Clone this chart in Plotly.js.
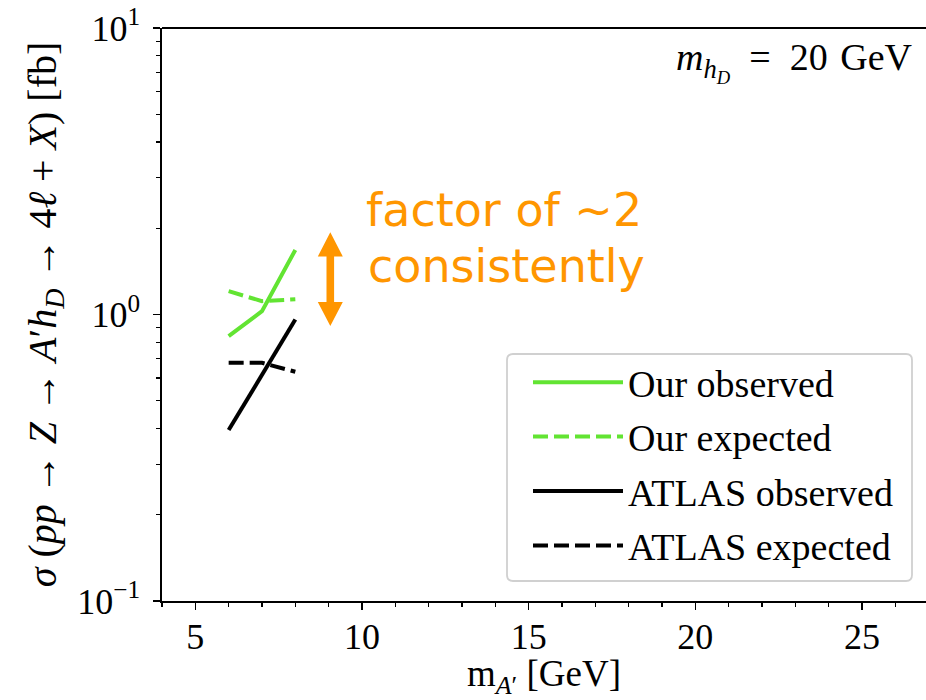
<!DOCTYPE html>
<html>
<head>
<meta charset="utf-8">
<script src="https://cdn.plot.ly/plotly-3.0.1.min.js"></script>
<style>html,body{margin:0;padding:0;background:#fff;}</style>
</head>
<body>
<div id="chart" style="width:926px;height:700px;"></div>
<script>
// ---- data ----
const massA = [6, 7, 8];
const ourObserved = [0.84, 1.027, 1.68];
const ourExpected = [1.206, 1.113, 1.13];
const atlasObserved = [0.395, 0.616, 0.96];
const atlasExpected = [0.678, 0.678, 0.631];
const seriesNames = ["Our observed", "Our expected", "ATLAS observed", "ATLAS expected"];
const yTickVals = [0.1, 1, 10];
const yTickText = ["10<sup>\u22121</sup>", "10<sup>0</sup>", "10<sup>1</sup>"];
const xTickVals = [5, 10, 15, 20, 25];

const GREEN = "rgb(98,228,50)";
const ORANGE = "rgb(255,150,0)";
const SERIF = "Liberation Serif";
const HAND = "DejaVu Sans";

const yMinor = [];
[0.1, 1].forEach(d => { for (let k = 2; k <= 9; k++) yMinor.push(+(d * k).toFixed(3)); });

const dashPat = "15px,6px";
const traces = [
  {x: massA, y: ourObserved, name: seriesNames[0], mode: "lines", line: {color: GREEN, width: 4}, legendgroup: "a"},
  {x: massA, y: ourExpected, name: seriesNames[1], mode: "lines", line: {color: GREEN, width: 4, dash: dashPat}, legendgroup: "b"},
  {x: massA, y: atlasObserved, name: seriesNames[2], mode: "lines", line: {color: "black", width: 4}, legendgroup: "c"},
  {x: massA, y: atlasExpected, name: seriesNames[3], mode: "lines", line: {color: "black", width: 4, dash: dashPat}, legendgroup: "d"}
];

// plot-area geometry helpers (for decorations only)
const L = 162, T = 28, W = 764, H = 573;
function P(px, py) { return ((px - L) / W).toFixed(5) + "," + ((T + H - py) / H).toFixed(5); }
const cx = 330.3, hw = 12.5, sw = 3.8;
const arrowPath = "M" + P(cx, 232.3) + " L" + P(cx + hw, 256.5) + " L" + P(cx + sw, 256.5) +
  " L" + P(cx + sw, 302) + " L" + P(cx + hw, 302) + " L" + P(cx, 326) + " L" + P(cx - hw, 302) +
  " L" + P(cx - sw, 302) + " L" + P(cx - sw, 256.5) + " L" + P(cx - hw, 256.5) + " Z";
// rounded legend frame
const bx0 = 507, bx1 = 912, by0 = 354, by1 = 581, r = 6;
const framePath = "M" + P(bx0 + r, by0) + " L" + P(bx1 - r, by0) + " Q" + P(bx1, by0) + " " + P(bx1, by0 + r) +
  " L" + P(bx1, by1 - r) + " Q" + P(bx1, by1) + " " + P(bx1 - r, by1) +
  " L" + P(bx0 + r, by1) + " Q" + P(bx0, by1) + " " + P(bx0, by1 - r) +
  " L" + P(bx0, by0 + r) + " Q" + P(bx0, by0) + " " + P(bx0 + r, by0) + " Z";

const layout = {
  width: 926, height: 700,
  margin: {l: L, r: 0, t: T, b: 700 - T - H, pad: 0},
  paper_bgcolor: "white", plot_bgcolor: "white",
  font: {family: SERIF, color: "black", size: 36},
  showlegend: true,
  xaxis: {
    range: [4, 4 + W / 33.33],
    tickmode: "array", tickvals: xTickVals,
    ticks: "outside", ticklen: 7, tickwidth: 1.5, tickcolor: "black",
    minor: {dtick: 1, tick0: 0, ticks: "outside", ticklen: 4, tickwidth: 1.2, tickcolor: "black"},
    showline: true, linecolor: "black", linewidth: 1.8,
    showgrid: false, zeroline: false,
    ticklabelstandoff: -4,
    tickfont: {family: SERIF, size: 36, color: "black"},
    title: {text: "m<sub><i>A</i>\u2032</sub> [GeV]", font: {family: SERIF, size: 37}, standoff: 10}
  },
  yaxis: {
    type: "log", range: [-1, 1],
    tickmode: "array", tickvals: yTickVals, ticktext: yTickText,
    ticks: "outside", ticklen: 7, tickwidth: 1.5, tickcolor: "black",
    minor: {tickmode: "array", tickvals: yMinor, ticks: "outside", ticklen: 4, tickwidth: 1.2, tickcolor: "black"},
    showline: true, linecolor: "black", linewidth: 1.8,
    showgrid: false, zeroline: false,
    ticklabelstandoff: 6,
    tickfont: {family: SERIF, size: 36, color: "black"},
    title: {text: "<i>\u03c3</i> (<i>pp</i> \u2192 <i>Z</i> \u2192 <i>A</i>\u2032<i>h</i><sub><i>D</i></sub> \u2192 4<i>\u2113</i> + <i>X</i>) [fb]",
            font: {family: SERIF, size: 40}, standoff: 8}
  },
  legend: {
    x: (528 - L) / W, xanchor: "left", y: 24 / H, yanchor: "bottom",
    bgcolor: "rgba(0,0,0,0)", borderwidth: 0,
    font: {family: SERIF, size: 38}, traceorder: "grouped", tracegroupgap: 2,
    itemwidth: 90
  },
  shapes: [
    {type: "line", xref: "paper", yref: "paper", x0: 0, x1: 1, y0: 1, y1: 1, line: {color: "black", width: 1.8}},
    {type: "path", xref: "paper", yref: "paper", path: arrowPath, fillcolor: ORANGE, line: {width: 0}},
    {type: "path", xref: "paper", yref: "paper", path: framePath, fillcolor: "rgba(255,255,255,0.85)",
     line: {color: "#d0d0d0", width: 1.8}, layer: "above"}
  ],
  annotations: [
    {xref: "paper", yref: "paper", x: (915 - L) / W, y: (601 - 62) / H, xanchor: "right", yanchor: "middle",
     text: "<i>m</i><sub><i>h<sub>D</sub></i></sub>\u2002=\u200220\u2004GeV", showarrow: false,
     font: {family: SERIF, size: 38, color: "black"}},
    {xref: "paper", yref: "paper", x: (364 - L) / W, y: (601 - 210) / H, xanchor: "left", yanchor: "middle",
     text: "factor of ~2", showarrow: false, align: "left",
     font: {family: HAND, size: 46, color: ORANGE}},
    {xref: "paper", yref: "paper", x: (366 - L) / W, y: (601 - 266) / H, xanchor: "left", yanchor: "middle",
     text: "consistently", showarrow: false, align: "left",
     font: {family: HAND, size: 46, color: ORANGE}}
  ]
};

Plotly.newPlot("chart", traces, layout, {displayModeBar: false, staticPlot: true});
</script>
</body>
</html>
